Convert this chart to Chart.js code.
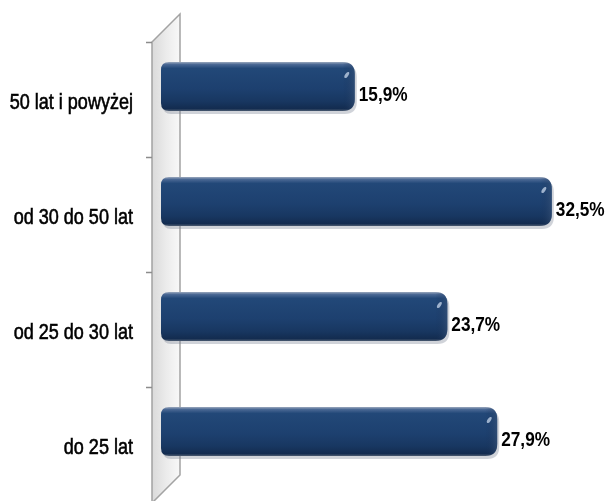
<!DOCTYPE html>
<html>
<head>
<meta charset="utf-8">
<script src="https://cdn.jsdelivr.net/npm/chart.js@4/dist/chart.umd.min.js"></script>
<style>
  html, body { margin: 0; padding: 0; background: #fff; }
  #wrap { width: 606px; height: 501px; }
</style>
</head>
<body>
<div id="wrap"><canvas id="ageChart"></canvas></div>
<script>
// Age groups, top to bottom
const categories = ['50 lat i powyżej', 'od 30 do 50 lat', 'od 25 do 30 lat', 'do 25 lat'];
// Share of each group, percent
const shares = [15.9, 32.5, 23.7, 27.9];

const labelFont = '"Liberation Sans", Arial, sans-serif';
const narrow = 0.82; // squeeze factor to get a narrow face out of Liberation Sans

function narrowText(ctx, text, x, y, font, align, weight) {
    ctx.save();
    ctx.font = font;
    ctx.textAlign = align;
    ctx.textBaseline = 'middle';
    ctx.fillStyle = '#000';
    ctx.translate(x, y);
    ctx.scale(narrow, 1);
    ctx.fillText(text, 0, 0);
    if (weight) {
        // a hair of stroke to thicken the regular face a little
        ctx.strokeStyle = '#000';
        ctx.lineWidth = weight;
        ctx.strokeText(text, 0, 0);
    }
    ctx.restore();
}

// Grey side wall with the tick marks on its front edge
const wallPlugin = {
    id: 'wall',
    beforeDatasetsDraw(chart) {
        const { ctx, chartArea } = chart;
        const L = chartArea.left, T = chartArea.top, B = chartArea.bottom;
        const fx = L - 14, bx = L + 14;
        ctx.save();
        ctx.beginPath();
        ctx.moveTo(fx, T + 13);
        ctx.lineTo(bx, T - 15);
        ctx.lineTo(bx, B - 14);
        ctx.lineTo(fx, B + 14);
        ctx.closePath();
        const g = ctx.createLinearGradient(fx, 0, bx, 0);
        g.addColorStop(0, '#dadada');
        g.addColorStop(0.5, '#ebebeb');
        g.addColorStop(1, '#f8f8f8');
        ctx.fillStyle = g;
        ctx.fill();
        ctx.strokeStyle = '#a3a3a3';
        ctx.lineWidth = 1.5;
        ctx.stroke();

        // tick marks at the category boundaries
        const step = (B - T) / categories.length;
        ctx.beginPath();
        for (let i = 0; i < categories.length; i++) {
            const y = Math.round(T + i * step + 13) + 0.5;
            ctx.moveTo(fx - 6, y);
            ctx.lineTo(fx, y);
        }
        ctx.strokeStyle = '#8c8c8c';
        ctx.lineWidth = 1.5;
        ctx.stroke();

        // category labels, sitting on the front plane of the wall
        const yScale = chart.scales.y;
        categories.forEach((c, i) => {
            narrowText(ctx, c, 133, yScale.getPixelForValue(i) + 16, '22px ' + labelFont, 'right', 0.6);
        });
        ctx.restore();
    }
};

function roundedBar(ctx, l, t, r, b, rl, rr) {
    ctx.beginPath();
    ctx.moveTo(l + rl, t);
    ctx.lineTo(r - rr, t);
    ctx.quadraticCurveTo(r, t, r, t + rr);
    ctx.lineTo(r, b - rr);
    ctx.quadraticCurveTo(r, b, r - rr, b);
    ctx.lineTo(l + rl, b);
    ctx.quadraticCurveTo(l, b, l, b - rl);
    ctx.lineTo(l, t + rl);
    ctx.quadraticCurveTo(l, t, l + rl, t);
    ctx.closePath();
}

// Shaded, rounded bars plus the value labels
const barPlugin = {
    id: 'shadedBars',
    afterDatasetsDraw(chart) {
        const { ctx } = chart;
        const meta = chart.getDatasetMeta(0);
        ctx.save();
        meta.data.forEach((bar, i) => {
            const p = bar.getProps(['x', 'y', 'base', 'height'], true);
            const l = p.base - 5, r = p.x;
            const t = p.y - p.height / 2, b = p.y + p.height / 2;

            // soft shadow under the bar
            roundedBar(ctx, l + 2, t + 3, r + 2, b + 3, 8, 12);
            ctx.fillStyle = 'rgba(120,130,145,0.35)';
            ctx.fill();

            roundedBar(ctx, l, t, r, b, 8, 12);
            const g = ctx.createLinearGradient(0, t, 0, b);
            g.addColorStop(0, '#9aa8bd');
            g.addColorStop(0.05, '#4a6894');
            g.addColorStop(0.13, '#224878');
            g.addColorStop(0.55, '#1d406f');
            g.addColorStop(0.8, '#183761');
            g.addColorStop(0.95, '#132c50');
            g.addColorStop(1, '#4a5a70');
            ctx.fillStyle = g;
            ctx.fill();

            // shaded right end
            const gr = ctx.createLinearGradient(r - 12, 0, r, 0);
            gr.addColorStop(0, 'rgba(20,45,85,0)');
            gr.addColorStop(1, 'rgba(60,85,120,0.55)');
            ctx.fillStyle = gr;
            ctx.fill();

            // little glint near the end
            ctx.beginPath();
            ctx.ellipse(r - 8, t + 13, 1.6, 3.5, 0.6, 0, Math.PI * 2);
            ctx.fillStyle = 'rgba(200,215,235,0.75)';
            ctx.fill();

            // value label
            narrowText(ctx, shares[i].toFixed(1).replace('.', ',') + '%', r + 4, p.y + 9,
                'bold 21px ' + labelFont, 'left');
        });
        ctx.restore();
    }
};

function createChart() {
    const ctx = document.getElementById('ageChart').getContext('2d');
    new Chart(ctx, {
        type: 'bar',
        data: {
            labels: categories,
            datasets: [{
                data: shares,
                backgroundColor: 'rgba(0,0,0,0)',
                borderWidth: 0,
                barThickness: 49
            }]
        },
        options: {
            indexAxis: 'y',
            responsive: true,
            maintainAspectRatio: false,
            animation: false,
            layout: { padding: { top: 29, bottom: 12, left: 166, right: 24.5 } },
            plugins: {
                legend: { display: false },
                tooltip: { enabled: false }
            },
            scales: {
                x: { display: false, min: 0, max: 35 },
                y: { display: false }
            }
        },
        plugins: [wallPlugin, barPlugin]
    });
}

document.addEventListener('DOMContentLoaded', createChart);
</script>
</body>
</html>
